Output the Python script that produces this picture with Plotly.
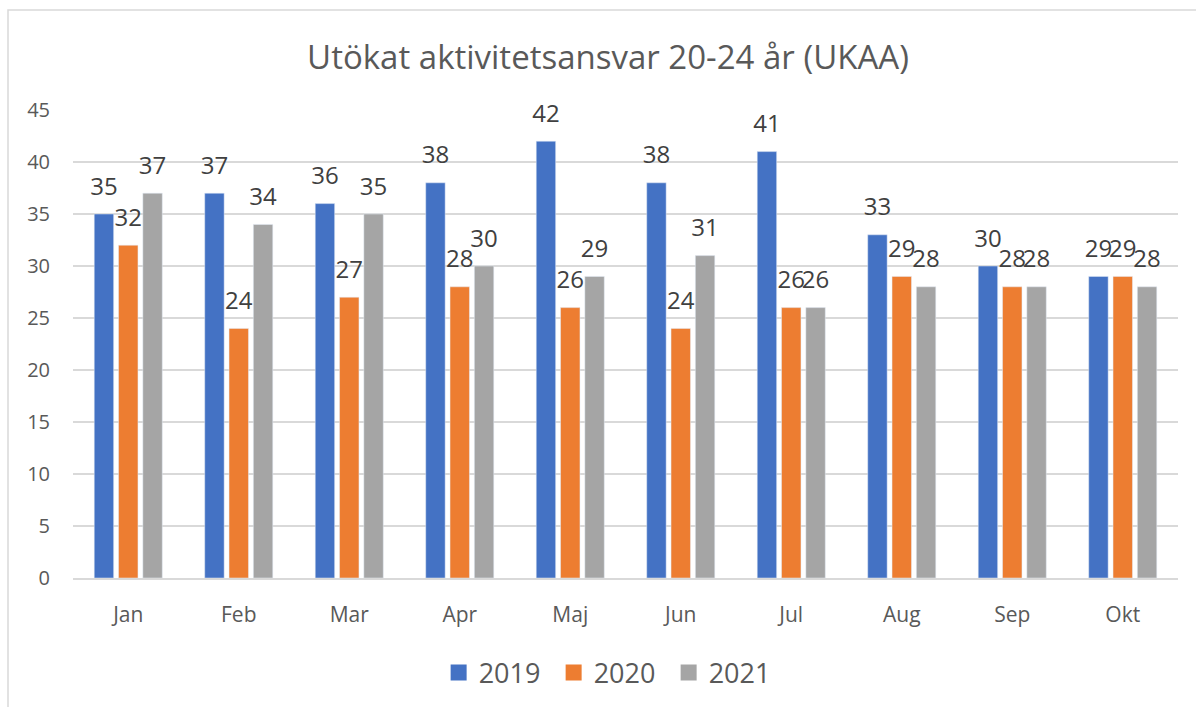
import plotly.graph_objects as go

months = ["Jan", "Feb", "Mar", "Apr", "Maj", "Jun", "Jul", "Aug", "Sep", "Okt"]
v2019 = [35, 37, 36, 38, 42, 38, 41, 33, 30, 29]
v2020 = [32, 24, 27, 28, 26, 24, 26, 29, 28, 29]
v2021 = [37, 34, 35, 30, 29, 31, 26, 28, 28, 28]
series = [("2019", v2019, "#4472C4"), ("2020", v2020, "#ED7D31"), ("2021", v2021, "#A5A5A5")]

FONT = "Open Sans, Liberation Sans, sans-serif"

fig = go.Figure()
for name, vals, col in series:
    fig.add_trace(go.Bar(
        x=months, y=vals, name=name, marker_color=col, showlegend=False,
        hoverinfo="x+y+name", offsetgroup=name, alignmentgroup="bars",
    ))
for name, vals, col in series:
    fig.add_trace(go.Scatter(
        x=months, y=vals, name=name, mode="markers+text", showlegend=False,
        text=[str(v) for v in vals], textposition="top center", cliponaxis=False,
        marker=dict(size=20, color="rgba(0,0,0,0)"), hoverinfo="skip",
        textfont=dict(size=24, color="#404040", family=FONT),
        offsetgroup=name, alignmentgroup="labels",
    ))
# legend entries (square swatches)
for name, vals, col in series:
    fig.add_trace(go.Scatter(
        x=[None], y=[None], name=name, mode="markers",
        marker=dict(symbol="square", size=18, color=col), showlegend=True,
        offsetgroup=name, alignmentgroup="labels",
    ))

fig.update_layout(
    width=1196, height=707,
    paper_bgcolor="white", plot_bgcolor="white",
    font=dict(family=FONT, color="#595959"),
    title=dict(text="Utökat aktivitetsansvar 20-24 år (UKAA)", x=608 / 1196, xanchor="center",
               y=1 - 57 / 707, yanchor="middle", font=dict(size=33, color="#595959")),
    barmode="group", bargap=0.34, bargroupgap=0.2,
    scattermode="group", scattergap=0.34,
    margin=dict(l=73, r=18, t=110, b=129, autoexpand=False),
    yaxis=dict(range=[0, 45], dtick=5, showgrid=True, gridcolor="#D9D9D9", gridwidth=1.5,
               zeroline=False, showline=False, ticks="", ticklabelstandoff=22,
               tickfont=dict(size=20, color="#595959")),
    xaxis=dict(showline=True, linecolor="#D9D9D9", linewidth=1.5, ticks="",
               ticklabelstandoff=17, tickfont=dict(size=21, color="#595959")),
    legend=dict(orientation="h", x=0.487, xanchor="center", yref="container",
                y=34 / 707, yanchor="middle", entrywidth=70, entrywidthmode="pixels",
                font=dict(size=27, color="#595959"), itemwidth=30),
)
fig.add_shape(type="rect", xref="paper", yref="paper",
              x0=(8 - 73) / 1105, x1=1.05, y0=-0.5, y1=(578 - 10) / 468,
              line=dict(color="#D9D9D9", width=1.5), layer="below")
fig.write_html("out.html", config={"displayModeBar": False},
               post_script="document.body.style.margin='0';")
